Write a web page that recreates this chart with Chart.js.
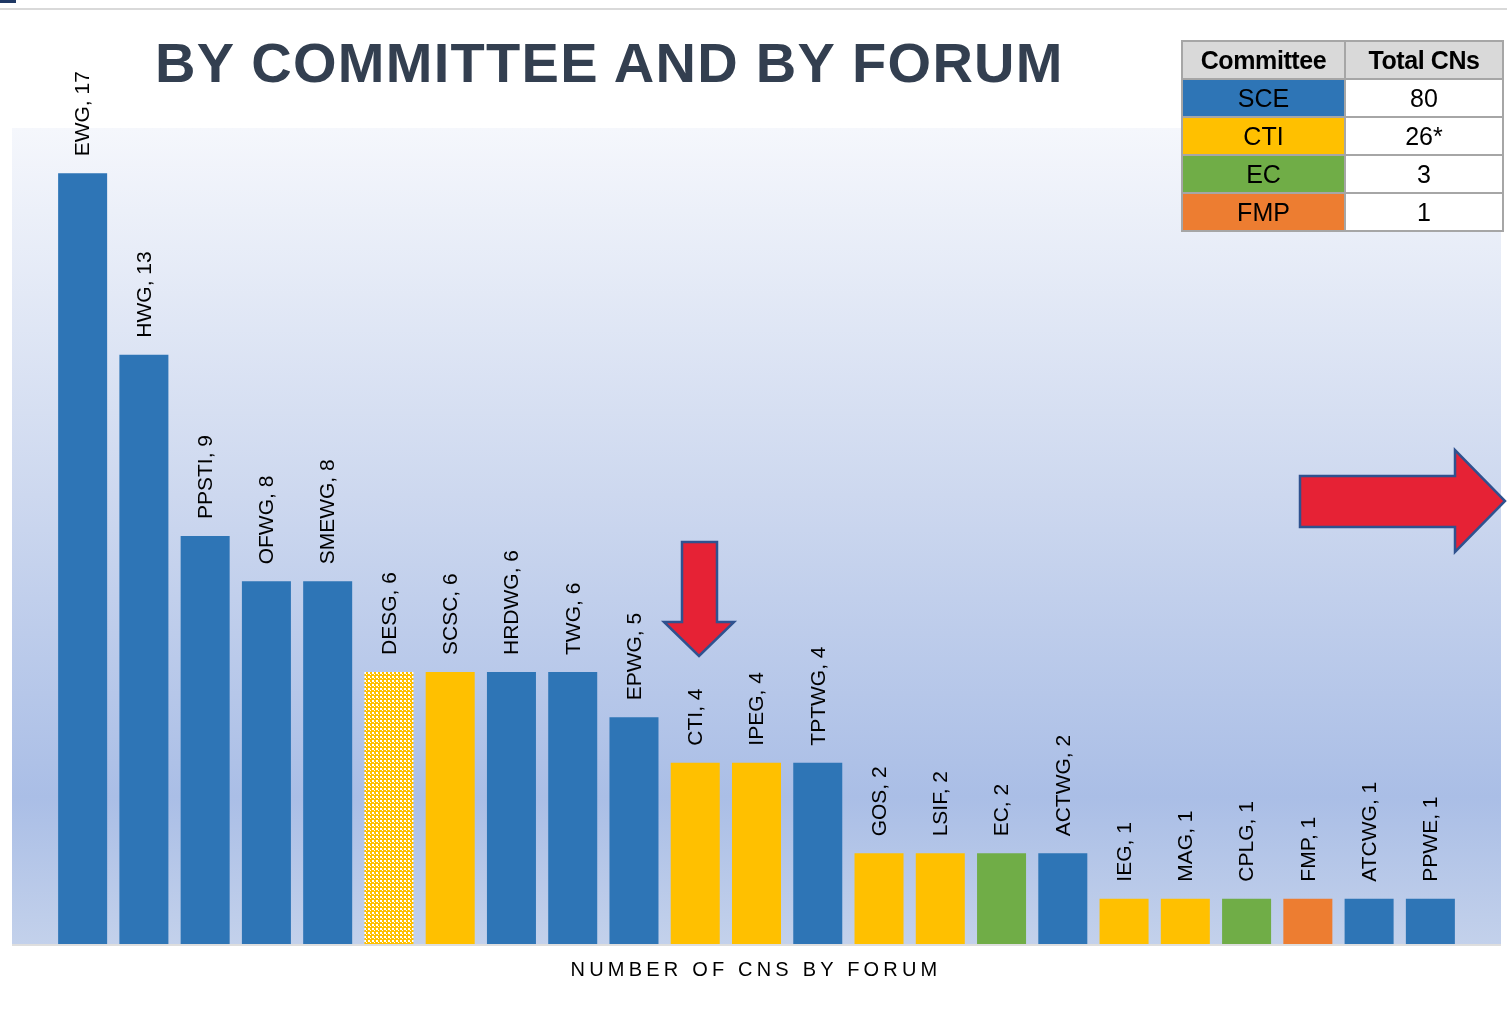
<!DOCTYPE html>
<html>
<head>
<meta charset="utf-8">
<script src="https://cdn.jsdelivr.net/npm/chart.js@4.4.1/dist/chart.umd.min.js"></script>
<style>
    html, body { margin: 0; padding: 0; background: #fff; }
    body { width: 1507px; height: 1016px; position: relative; overflow: hidden; font-family: 'Liberation Sans', Arial, sans-serif; }
    #topLine { position: absolute; left: 0; top: 8px; width: 1507px; height: 2px; background: #d9d9d9; }
    #topMark { position: absolute; left: 0; top: 0; width: 16px; height: 3px; background: #1f3864; }
    #chartWrap { position: absolute; left: 0; top: 0; width: 1507px; height: 1016px; }
    #title { position: absolute; left: 155px; top: 35px; font-size: 56px; line-height: 56px; font-weight: bold; color: #333f50; letter-spacing: 1.3px; white-space: nowrap; }
    #axisTitle { position: absolute; left: 0; width: 1512px; top: 959px; text-align: center; font-size: 20px; line-height: 20px; letter-spacing: 4.2px; color: #000; white-space: nowrap; }
    #totals { position: absolute; left: 1181px; top: 40px; border-collapse: collapse; border: 2px solid #a6a6a6; }
    #totals td, #totals th { border: 2px solid #a6a6a6; height: 36px; padding: 0; text-align: center; font-size: 25px; color: #000; }
    #totals th { background: #d9d9d9; font-size: 25px; font-weight: bold; letter-spacing: -0.4px; }
    #totals td.num { background: #fff; }
</style>
</head>
<body>
<div id="topLine"></div>
<div id="topMark"></div>
<div id="chartWrap"><canvas id="forumChart" width="1507" height="1016"></canvas></div>
<div id="title">BY COMMITTEE AND BY FORUM</div>
<table id="totals"></table>
<div id="axisTitle">NUMBER OF CNS BY FORUM</div>

<script>
// forums, number of CNs, and the committee each forum belongs to
var forums = ['EWG', 'HWG', 'PPSTI', 'OFWG', 'SMEWG', 'DESG', 'SCSC', 'HRDWG', 'TWG', 'EPWG', 'CTI', 'IPEG',
    'TPTWG', 'GOS', 'LSIF', 'EC', 'ACTWG', 'IEG', 'MAG', 'CPLG', 'FMP', 'ATCWG', 'PPWE'];
var counts = [17, 13, 9, 8, 8, 6, 6, 6, 6, 5, 4, 4, 4, 2, 2, 2, 2, 1, 1, 1, 1, 1, 1];
var committeeOf = ['SCE', 'SCE', 'SCE', 'SCE', 'SCE', 'CTI', 'CTI', 'SCE', 'SCE', 'SCE', 'CTI', 'CTI',
    'SCE', 'CTI', 'CTI', 'EC', 'SCE', 'CTI', 'CTI', 'EC', 'FMP', 'SCE', 'SCE'];
var hatchedForums = ['DESG'];

// summary table
var tableCommittees = ['SCE', 'CTI', 'EC', 'FMP'];
var tableTotals = ['80', '26*', '3', '1'];

var committeeColors = { SCE: '#2e75b6', CTI: '#ffc000', EC: '#70ad47', FMP: '#ed7d31' };

var table = document.getElementById('totals');
var html = '<tr><th style="width:161px">Committee</th><th style="width:156px">Total CNs</th></tr>';
tableCommittees.forEach(function(c, i) {
    html += '<tr><td style="background:' + committeeColors[c] + '">' + c + '</td><td class="num">' + tableTotals[i] + '</td></tr>';
});
table.innerHTML = html;

var ctx = document.getElementById('forumChart').getContext('2d');

function makeChecker(color) {
    var tile = document.createElement('canvas');
    tile.width = 4; tile.height = 4;
    var t = tile.getContext('2d');
    t.fillStyle = color;
    t.fillRect(0, 0, 4, 4);
    t.fillStyle = '#ffffff';
    t.fillRect(0, 0, 2, 2);
    t.fillRect(2, 2, 1, 1);
    return ctx.createPattern(tile, 'repeat');
}

var barColors = forums.map(function(f, i) {
    var col = committeeColors[committeeOf[i]];
    return hatchedForums.indexOf(f) >= 0 ? makeChecker(col) : col;
});

// gradient panel behind the bars
var panelPlugin = {
    id: 'panel',
    beforeDraw: function(chart) {
        var a = chart.chartArea, c = chart.ctx;
        var g = c.createLinearGradient(0, a.top, 0, a.bottom);
        g.addColorStop(0, '#f5f7fc');
        g.addColorStop(0.45, '#cdd8ef');
        g.addColorStop(0.82, '#aabee6');
        g.addColorStop(1, '#c3d1eb');
        c.save();
        c.fillStyle = g;
        c.fillRect(12, a.top, 1489, a.bottom - a.top);
        c.fillStyle = '#dedede';
        c.fillRect(12, a.bottom, 1489, 2);
        c.restore();
    }
};

// "NAME, value" written vertically above each bar
var labelPlugin = {
    id: 'barLabels',
    afterDatasetsDraw: function(chart) {
        var c = chart.ctx;
        var meta = chart.getDatasetMeta(0);
        c.save();
        c.font = '21px "Liberation Sans", Arial, sans-serif';
        c.fillStyle = '#000';
        c.textAlign = 'left';
        c.textBaseline = 'middle';
        meta.data.forEach(function(bar, i) {
            c.save();
            c.translate(bar.x + 1, bar.y - 17);
            c.rotate(-Math.PI / 2);
            c.fillText(forums[i] + ', ' + counts[i], 0, 0);
            c.restore();
        });
        c.restore();
    }
};

// the two red call-out arrows
var arrowPlugin = {
    id: 'arrows',
    afterDraw: function(chart) {
        var c = chart.ctx;
        function poly(pts) {
            c.beginPath();
            c.moveTo(pts[0][0], pts[0][1]);
            for (var k = 1; k < pts.length; k++) c.lineTo(pts[k][0], pts[k][1]);
            c.closePath();
            c.fill();
            c.stroke();
        }
        c.save();
        c.fillStyle = '#e62235';
        c.strokeStyle = '#2f528f';
        c.lineWidth = 2.5;
        c.lineJoin = 'miter';
        poly([[682, 542], [717, 542], [717, 622], [734, 622], [699, 656], [664, 622], [682, 622]]);
        poly([[1300, 476], [1455, 476], [1455, 450], [1505, 501], [1455, 552], [1455, 527], [1300, 527]]);
        c.restore();
    }
};

var forumChart = new Chart(ctx, {
    type: 'bar',
    data: {
        labels: forums,
        datasets: [{
            data: counts,
            backgroundColor: barColors,
            borderWidth: 0,
            categoryPercentage: 1.0,
            barPercentage: 0.8
        }]
    },
    options: {
        responsive: false,
        animation: false,
        layout: { padding: { left: 52, right: 46, top: 128, bottom: 72 } },
        plugins: {
            legend: { display: false },
            tooltip: { enabled: false }
        },
        scales: {
            x: { display: false, offset: true },
            y: { display: false, min: 0, max: 18 }
        }
    },
    plugins: [panelPlugin, labelPlugin, arrowPlugin]
});
</script>
</body>
</html>
